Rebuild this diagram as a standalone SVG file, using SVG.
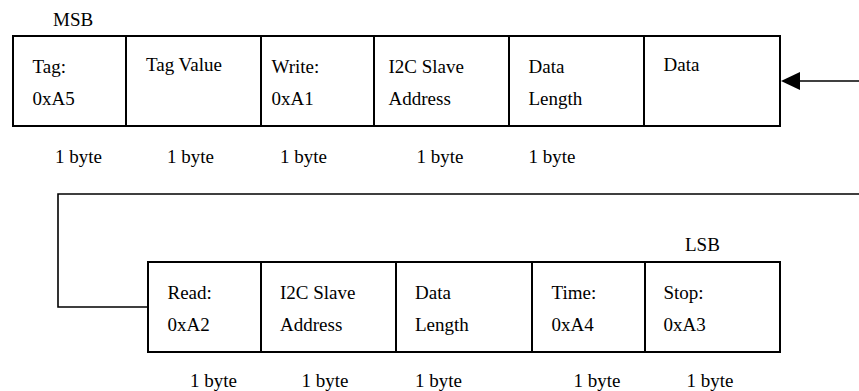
<svg xmlns="http://www.w3.org/2000/svg" width="859" height="391" viewBox="0 0 859 391" font-family="'Liberation Serif', 'Times New Roman', Times, serif" font-size="19">
<style>
  .cell { fill: #fff; stroke: #000; stroke-width: 2; }
  .conn { fill: none; stroke: #000; stroke-width: 1.6; }
  .t { font-family: 'Liberation Serif', 'Times New Roman', serif; font-size: 19px; fill: #000; }
</style>
<rect width="859" height="391" fill="#fff"/>

<g id="connectors">
  <path class="conn" d="M859,81 L799,81"/>
  <path d="M781,81 L800,72 L800,90 Z" fill="#000"/>
  <path class="conn" d="M859,194 L58,194 L58,307 L148,307"/>
</g>

<text class="t" id="msb" x="53" y="26">MSB</text>
<text class="t" id="lsb" x="685" y="251">LSB</text>

<g id="tag">
  <rect class="cell" x="13" y="36" width="113" height="90"/>
  <text class="t" x="32.5" y="73">Tag:</text>
  <text class="t" x="32.5" y="104.5">0xA5</text>
  <text class="t" x="55" y="163">1 byte</text>
</g>
<g id="tag-value">
  <rect class="cell" x="126" y="36" width="135" height="90"/>
  <text class="t" x="146" y="71">Tag Value</text>
  <text class="t" x="167" y="163">1 byte</text>
</g>
<g id="write">
  <rect class="cell" x="261" y="36" width="113" height="90"/>
  <text class="t" x="271.5" y="73">Write:</text>
  <text class="t" x="271.5" y="104.5">0xA1</text>
  <text class="t" x="280" y="163">1 byte</text>
</g>
<g id="i2c-slave-address-1">
  <rect class="cell" x="374" y="36" width="135" height="90"/>
  <text class="t" x="388.5" y="73">I2C Slave</text>
  <text class="t" x="388.5" y="104.5">Address</text>
  <text class="t" x="416.5" y="163">1 byte</text>
</g>
<g id="data-length-1">
  <rect class="cell" x="509" y="36" width="135" height="90"/>
  <text class="t" x="528.5" y="73">Data</text>
  <text class="t" x="528.5" y="104.5">Length</text>
  <text class="t" x="528.5" y="163">1 byte</text>
</g>
<g id="data">
  <rect class="cell" x="644" y="36" width="136" height="90"/>
  <text class="t" x="663.5" y="71">Data</text>
</g>

<g id="read">
  <rect class="cell" x="148" y="262" width="113" height="90"/>
  <text class="t" x="167.5" y="298.5">Read:</text>
  <text class="t" x="167.5" y="330.5">0xA2</text>
  <text class="t" x="190" y="387">1 byte</text>
</g>
<g id="i2c-slave-address-2">
  <rect class="cell" x="261" y="262" width="135" height="90"/>
  <text class="t" x="280" y="298.5">I2C Slave</text>
  <text class="t" x="280" y="330.5">Address</text>
  <text class="t" x="301.5" y="387">1 byte</text>
</g>
<g id="data-length-2">
  <rect class="cell" x="396" y="262" width="136" height="90"/>
  <text class="t" x="415" y="298.5">Data</text>
  <text class="t" x="415" y="330.5">Length</text>
  <text class="t" x="415" y="387">1 byte</text>
</g>
<g id="time">
  <rect class="cell" x="532" y="262" width="113" height="90"/>
  <text class="t" x="551.5" y="298.5">Time:</text>
  <text class="t" x="551.5" y="330.5">0xA4</text>
  <text class="t" x="573.5" y="387">1 byte</text>
</g>
<g id="stop">
  <rect class="cell" x="645" y="262" width="135" height="90"/>
  <text class="t" x="663.5" y="298.5">Stop:</text>
  <text class="t" x="663.5" y="330.5">0xA3</text>
  <text class="t" x="686.5" y="387">1 byte</text>
</g>
</svg>
